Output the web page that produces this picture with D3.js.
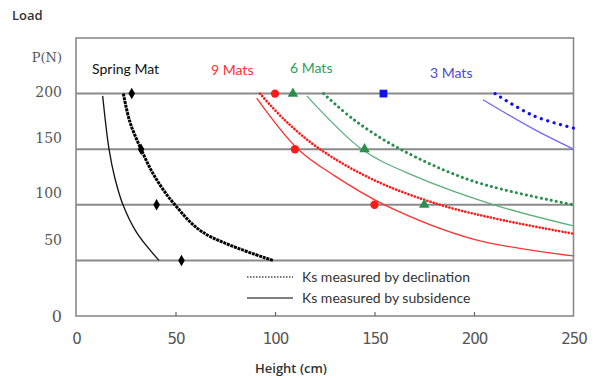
<!DOCTYPE html>
<html>
<head>
<meta charset="utf-8">
<script src="https://cdn.jsdelivr.net/npm/d3@7"></script>
<style>
  body { margin: 0; background: #fff; }
  svg text { font-family: Lato, "Open Sans", sans-serif; }
</style>
</head>
<body>
<div id="chart"></div>
<script>
// values: [height (cm), load P(N)]
const heightTicks = [0, 50, 100, 150, 200, 250];
const loadTicks = [0, 50, 100, 150, 200];

const springDecl = [[23.8, 200], [27, 175], [32.7, 150], [39.7, 125], [49.7, 100], [64, 75], [99, 50]];
const springSub = [[13.4, 198], [16.6, 150], [19.4, 125], [23.6, 100], [30.5, 75], [41.7, 50]];
const springPts = [[28, 200], [32.7, 150], [40.5, 100], [53, 50]];

const nineDecl = [[92.5, 200], [105, 176], [122.6, 150], [150, 122], [183, 100], [215, 86], [250, 74]];
const nineSub = [[90.8, 196], [111.6, 150], [130, 126], [155, 100], [200, 69], [250, 54]];
const ninePts = [[100, 200], [110, 150], [150, 100]];

const sixDecl = [[124.4, 200], [140, 176], [163, 150], [200, 121], [250, 100]];
const sixSub = [[116, 198], [143.6, 150], [170, 126], [210, 100], [250, 81]];
const sixPts = [[109, 200], [145, 150], [175, 100]];

const threeDecl = [[210.6, 200], [230, 180], [250, 169]];
const threeSub = [[204.5, 194.5], [230, 168], [250, 150]];
const threePts = [[154.5, 200]];

const groupNames = ["Spring Mat", "9 Mats", "6 Mats", "3 Mats"];
const legendLabels = ["Ks measured by declination", "Ks measured by subsidence"];

const W = 599, H = 378;
const margin = {top: 38, right: 25.5, bottom: 62, left: 76};
const width = W - margin.left - margin.right,
      height = H - margin.top - margin.bottom;

const svg = d3.select("#chart").append("svg")
    .attr("width", W)
    .attr("height", H);

let x = d3.scaleLinear().domain([0, 250]).range([0, width]),
    y = d3.scaleLinear().domain([0, 250]).range([height, 0]);

let g = svg.append("g")
    .attr("transform", "translate(" + margin.left + "," + margin.top + ")");

// grid lines
g.selectAll(".grid")
    .data(loadTicks.filter(d => d > 0))
    .enter().append("line")
    .attr("x1", 0).attr("x2", width)
    .attr("y1", d => y(d)).attr("y2", d => y(d))
    .attr("stroke", "#8a8a8a")
    .attr("stroke-width", 2);

// frame
g.append("rect")
    .attr("width", width).attr("height", height)
    .attr("fill", "none")
    .attr("stroke", "#8a8a8a")
    .attr("stroke-width", 1.6);

// x axis
let xAxis = g.append("g")
    .attr("transform", "translate(0," + height + ")")
    .call(d3.axisBottom(x).tickValues(heightTicks).tickSize(0).tickPadding(17));
xAxis.select(".domain").remove();
xAxis.selectAll("text")
    .style("font-family", "'DejaVu Sans', sans-serif")
    .style("font-size", "15px")
    .attr("fill", "#555")
    .attr("letter-spacing", "-1px");
xAxis.selectAll(".tick")
    .filter(d => d > 0 && d < 250)
    .append("line")
    .attr("y1", 0).attr("y2", -4)
    .attr("stroke", "#666").attr("stroke-width", 1.2);

// y axis (labels sit above their grid lines in the original)
const yLabelShift = {0: 0, 50: -21, 100: -12, 150: -12, 200: -2};
let yAxis = g.append("g")
    .call(d3.axisLeft(y).tickValues(loadTicks).tickSize(0).tickPadding(14));
yAxis.select(".domain").remove();
yAxis.selectAll("text")
    .style("font-family", "'DejaVu Serif', serif")
    .style("font-size", d => d === 0 ? "16px" : "14px")
    .attr("fill", "#555")
    .attr("dy", d => (yLabelShift[d] + 5) + "px");

svg.append("text")
    .attr("x", 62).attr("y", 62)
    .attr("text-anchor", "end")
    .style("font-family", "'DejaVu Serif', serif")
    .style("font-size", "13px")
    .attr("fill", "#555")
    .text("P(N)");

svg.append("text")
    .attr("x", 12).attr("y", 20)
    .style("font-family", "'Open Sans', sans-serif")
    .style("font-size", "13px")
    .style("font-weight", "600")
    .attr("fill", "#333")
    .text("Load");

svg.append("text")
    .attr("x", 291).attr("y", 373)
    .attr("text-anchor", "middle")
    .style("font-family", "'Open Sans', sans-serif")
    .style("font-size", "13px")
    .style("font-weight", "600")
    .attr("fill", "#333")
    .text("Height (cm)");

// curves
const line = d3.line()
    .x(d => x(d[0]))
    .y(d => y(d[1]))
    .curve(d3.curveCatmullRom.alpha(0.5));

const curves = [
  {data: springDecl, color: "#000", w: 3, dash: "3,0.8"},
  {data: springSub, color: "#111", w: 1.3, dash: null},
  {data: nineDecl, color: "#ff1a1a", w: 2.6, dash: "0.1,3.2"},
  {data: nineSub, color: "#ff3030", w: 1.3, dash: null},
  {data: sixDecl, color: "#2a8f4e", w: 3, dash: "0.1,5"},
  {data: sixSub, color: "#5cb07c", w: 1.3, dash: null},
  {data: threeDecl, color: "#1010ee", w: 3.2, dash: "0.1,6.5"},
  {data: threeSub, color: "#6a6aff", w: 1.3, dash: null}
];

g.selectAll(".curve")
    .data(curves)
    .enter().append("path")
    .attr("class", "curve")
    .attr("d", d => line(d.data))
    .attr("fill", "none")
    .attr("stroke", d => d.color)
    .attr("stroke-width", d => d.w)
    .attr("stroke-linecap", d => d.dash && d.dash.startsWith("0.1") ? "round" : "butt")
    .attr("stroke-dasharray", d => d.dash);

// measured points
const markers = [
  {data: springPts, color: "#000", type: d3.symbolDiamond, size: 38},
  {data: ninePts, color: "#ff1a1a", type: d3.symbolCircle, size: 55},
  {data: sixPts, color: "#2a8f4e", type: d3.symbolTriangle, size: 48},
  {data: threePts, color: "#1010ee", type: d3.symbolSquare, size: 60}
];

markers.forEach(m => {
  g.selectAll(null)
      .data(m.data)
      .enter().append("path")
      .attr("transform", d => "translate(" + x(d[0]) + "," + y(d[1]) + ")")
      .attr("d", d3.symbol().type(m.type).size(m.size))
      .attr("fill", m.color);
});

// group labels
const labelPos = [[92, 74, "#111"], [211, 75, "#ff3030"], [290, 73, "#2e9e5e"], [430, 78, "#4a4ad0"]];
svg.selectAll(".glabel")
    .data(groupNames)
    .enter().append("text")
    .attr("class", "glabel")
    .attr("x", (d, i) => labelPos[i][0])
    .attr("y", (d, i) => labelPos[i][1])
    .style("font-size", "14px")
    .attr("fill", (d, i) => labelPos[i][2])
    .text(d => d);

// legend
const legend = svg.append("g");
legendLabels.forEach((t, i) => {
  const ly = 277 + i * 21;
  legend.append("line")
      .attr("x1", 247).attr("x2", 293)
      .attr("y1", ly).attr("y2", ly)
      .attr("stroke", i === 0 ? "#777" : "#555")
      .attr("stroke-width", i === 0 ? 2 : 1.5)
      .attr("stroke-dasharray", i === 0 ? "1.5,1.5" : null);
  legend.append("text")
      .attr("x", 302).attr("y", ly + 5)
      .style("font-size", "14px")
      .attr("fill", "#333")
      .text(t);
});
</script>
</body>
</html>
